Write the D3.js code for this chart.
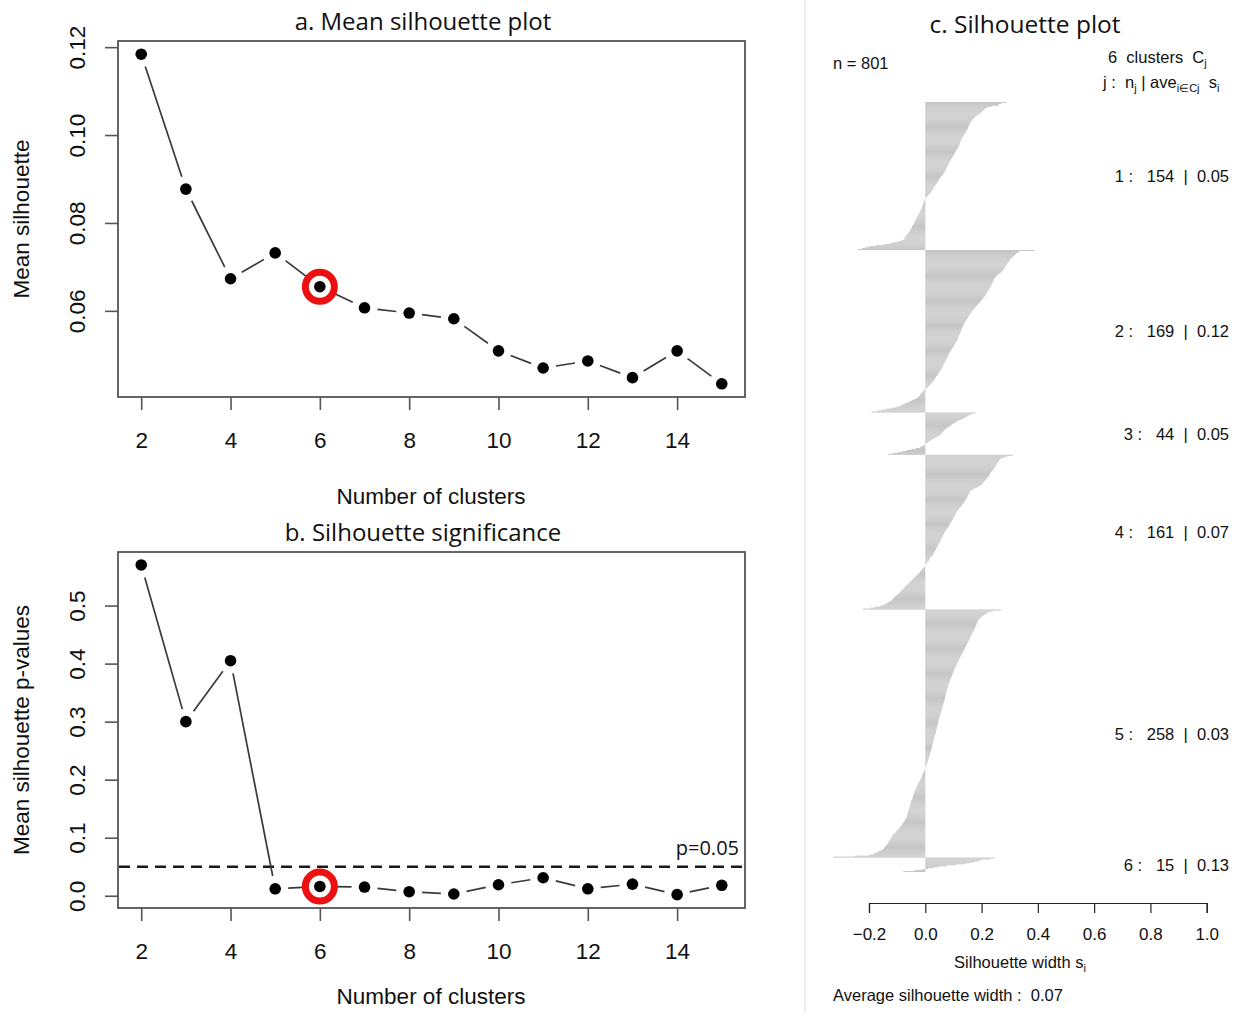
<!DOCTYPE html>
<html>
<head>
<meta charset="utf-8">
<script src="https://cdn.jsdelivr.net/npm/d3@7"></script>
<style>
  body { margin: 0; background: #fff; }
  svg { display: block; }
  .r-text { font-family: "Liberation Sans", Arial, sans-serif; fill: #111; white-space: pre; }
  .title { font-family: "Open Sans", sans-serif; fill: #111; }
</style>
</head>
<body>
<svg id="chart"></svg>
<script>
// ---- data ----
const clusterK = [2, 3, 4, 5, 6, 7, 8, 9, 10, 11, 12, 13, 14, 15];
const meanSil = [0.1184, 0.0877, 0.0673, 0.0732, 0.0655, 0.0607, 0.0595, 0.0582, 0.0509, 0.0470, 0.0486, 0.0448, 0.0509, 0.0434];
const pValues = [0.570, 0.300, 0.405, 0.012, 0.016, 0.015, 0.007, 0.003, 0.019, 0.031, 0.012, 0.020, 0.002, 0.018];
const selectedK = 6;
const pThreshold = 0.05;

const kTicks = [2, 4, 6, 8, 10, 12, 14];
const meanTicks = [0.06, 0.08, 0.10, 0.12];
const pTicks = [0.0, 0.1, 0.2, 0.3, 0.4, 0.5];
const silTicks = [-0.2, 0.0, 0.2, 0.4, 0.6, 0.8, 1.0];

const clusterSizes = [154, 169, 44, 161, 258, 15];
const clusterAvg = ["0.05", "0.12", "0.05", "0.07", "0.03", "0.13"];
const nObs = 801;
const avgWidth = "0.07";

// silhouette widths per cluster, sorted as plotted (top to bottom)
const sil1 = [0.287,0.270,0.262,0.258,0.236,0.221,0.214,0.210,0.207,0.203,
0.200,0.196,0.191,0.186,0.181,0.177,0.174,0.170,0.168,0.165,
0.163,0.161,0.158,0.157,0.155,0.154,0.152,0.151,0.149,0.147,
0.145,0.143,0.141,0.139,0.137,0.135,0.133,0.131,0.128,0.127,
0.126,0.124,0.123,0.122,0.121,0.119,0.118,0.116,0.114,0.112,
0.110,0.108,0.106,0.104,0.102,0.100,0.098,0.096,0.094,0.092,
0.090,0.088,0.086,0.084,0.083,0.081,0.080,0.078,0.076,0.074,
0.073,0.071,0.069,0.067,0.065,0.062,0.060,0.057,0.054,0.051,
0.049,0.047,0.045,0.043,0.041,0.039,0.036,0.034,0.031,0.029,
0.027,0.025,0.023,0.021,0.018,0.015,0.012,0.009,0.006,0.003,
0.000,-0.002,-0.003,-0.004,-0.006,-0.007,-0.008,-0.010,-0.011,-0.012,
-0.013,-0.014,-0.016,-0.018,-0.019,-0.021,-0.023,-0.025,-0.027,-0.029,
-0.030,-0.032,-0.034,-0.036,-0.037,-0.039,-0.041,-0.043,-0.045,-0.047,
-0.048,-0.050,-0.052,-0.054,-0.056,-0.058,-0.061,-0.064,-0.067,-0.070,
-0.071,-0.073,-0.075,-0.078,-0.086,-0.100,-0.115,-0.127,-0.150,-0.175,
-0.198,-0.212,-0.225,-0.239];
const sil2 = [0.388,0.335,0.330,0.323,0.320,0.317,0.313,0.310,0.305,0.302,
0.300,0.298,0.296,0.293,0.291,0.288,0.286,0.284,0.282,0.280,
0.278,0.276,0.272,0.268,0.263,0.258,0.254,0.251,0.248,0.246,
0.244,0.243,0.241,0.240,0.238,0.236,0.234,0.233,0.231,0.229,
0.227,0.225,0.223,0.221,0.219,0.217,0.215,0.213,0.210,0.207,
0.205,0.202,0.199,0.196,0.193,0.190,0.187,0.184,0.181,0.178,
0.175,0.172,0.169,0.166,0.164,0.162,0.160,0.157,0.155,0.153,
0.151,0.149,0.146,0.144,0.142,0.140,0.138,0.136,0.134,0.133,
0.132,0.130,0.129,0.128,0.126,0.125,0.124,0.122,0.121,0.119,
0.118,0.117,0.116,0.114,0.112,0.110,0.108,0.106,0.104,0.102,
0.100,0.098,0.095,0.093,0.090,0.088,0.087,0.085,0.083,0.081,
0.080,0.078,0.077,0.075,0.073,0.072,0.070,0.068,0.066,0.064,
0.063,0.061,0.059,0.057,0.055,0.053,0.050,0.048,0.046,0.044,
0.042,0.039,0.037,0.035,0.033,0.030,0.027,0.024,0.021,0.018,
0.015,0.012,0.008,0.005,0.001,-0.003,-0.006,-0.009,-0.012,-0.015,
-0.018,-0.020,-0.024,-0.028,-0.033,-0.040,-0.048,-0.055,-0.062,-0.070,
-0.078,-0.085,-0.091,-0.105,-0.120,-0.138,-0.155,-0.172,-0.191];
const sil3 = [0.177,0.165,0.158,0.152,0.146,0.140,0.133,0.126,0.118,0.111,
0.106,0.100,0.095,0.090,0.085,0.080,0.075,0.072,0.068,0.065,
0.061,0.058,0.055,0.051,0.045,0.039,0.033,0.027,0.021,0.015,
0.011,0.007,0.003,0.000,-0.007,-0.013,-0.020,-0.035,-0.050,-0.067,
-0.082,-0.098,-0.115,-0.132];
const sil4 = [0.311,0.290,0.280,0.270,0.266,0.263,0.261,0.258,0.256,0.254,
0.252,0.250,0.248,0.246,0.244,0.241,0.238,0.235,0.232,0.230,
0.229,0.227,0.225,0.222,0.219,0.216,0.213,0.210,0.207,0.204,
0.201,0.199,0.192,0.185,0.178,0.171,0.165,0.160,0.158,0.156,
0.155,0.153,0.151,0.150,0.148,0.146,0.144,0.142,0.140,0.137,
0.135,0.132,0.130,0.127,0.124,0.122,0.119,0.116,0.114,0.111,
0.109,0.108,0.106,0.104,0.102,0.101,0.099,0.097,0.095,0.093,
0.091,0.089,0.087,0.085,0.083,0.081,0.078,0.076,0.073,0.071,
0.069,0.067,0.066,0.064,0.062,0.061,0.059,0.057,0.056,0.054,
0.052,0.050,0.048,0.046,0.045,0.043,0.041,0.039,0.037,0.035,
0.033,0.031,0.029,0.027,0.025,0.022,0.019,0.017,0.015,0.013,
0.011,0.008,0.006,0.003,0.001,0.000,-0.003,-0.006,-0.009,-0.012,
-0.015,-0.018,-0.020,-0.024,-0.027,-0.031,-0.034,-0.038,-0.041,-0.045,
-0.048,-0.052,-0.055,-0.058,-0.062,-0.065,-0.068,-0.071,-0.075,-0.078,
-0.081,-0.085,-0.088,-0.091,-0.095,-0.099,-0.103,-0.107,-0.111,-0.114,
-0.117,-0.120,-0.126,-0.132,-0.138,-0.144,-0.150,-0.162,-0.178,-0.195,
-0.221];
const sil5 = [0.270,0.240,0.228,0.220,0.214,0.209,0.204,0.200,0.196,0.193,
0.190,0.188,0.186,0.185,0.183,0.182,0.180,0.179,0.177,0.176,
0.174,0.172,0.170,0.168,0.167,0.165,0.164,0.162,0.160,0.159,
0.157,0.156,0.154,0.152,0.151,0.149,0.147,0.146,0.144,0.142,
0.140,0.139,0.137,0.135,0.133,0.132,0.130,0.128,0.126,0.124,
0.122,0.120,0.118,0.117,0.115,0.114,0.112,0.111,0.109,0.108,
0.106,0.105,0.103,0.102,0.100,0.099,0.097,0.096,0.095,0.093,
0.092,0.091,0.089,0.088,0.087,0.086,0.084,0.083,0.082,0.081,
0.080,0.079,0.078,0.077,0.076,0.075,0.074,0.073,0.073,0.072,
0.071,0.070,0.070,0.069,0.068,0.067,0.066,0.065,0.064,0.063,
0.062,0.061,0.060,0.059,0.058,0.057,0.056,0.055,0.054,0.053,
0.052,0.051,0.050,0.049,0.048,0.047,0.046,0.046,0.045,0.044,
0.043,0.042,0.041,0.041,0.040,0.039,0.038,0.038,0.037,0.036,
0.035,0.034,0.033,0.032,0.031,0.030,0.029,0.028,0.027,0.026,
0.025,0.025,0.024,0.023,0.022,0.021,0.020,0.019,0.018,0.017,
0.016,0.015,0.014,0.013,0.012,0.011,0.010,0.009,0.008,0.007,
0.006,0.005,0.003,0.002,0.001,0.000,-0.002,-0.003,-0.005,-0.006,
-0.008,-0.009,-0.011,-0.012,-0.014,-0.015,-0.017,-0.019,-0.020,-0.022,
-0.024,-0.026,-0.027,-0.029,-0.030,-0.032,-0.033,-0.035,-0.036,-0.038,
-0.039,-0.040,-0.042,-0.043,-0.044,-0.045,-0.046,-0.047,-0.049,-0.050,
-0.051,-0.052,-0.053,-0.054,-0.055,-0.056,-0.057,-0.058,-0.059,-0.060,
-0.061,-0.062,-0.063,-0.064,-0.065,-0.066,-0.067,-0.069,-0.071,-0.073,
-0.075,-0.077,-0.080,-0.082,-0.085,-0.087,-0.090,-0.093,-0.096,-0.099,
-0.102,-0.105,-0.108,-0.112,-0.115,-0.117,-0.119,-0.121,-0.123,-0.125,
-0.127,-0.129,-0.132,-0.134,-0.136,-0.139,-0.142,-0.145,-0.148,-0.150,
-0.158,-0.165,-0.172,-0.180,-0.186,-0.200,-0.250,-0.328];
const sil6 = [0.245,0.230,0.200,0.190,0.175,0.157,0.140,0.110,0.075,0.050,
0.030,0.010,-0.010,-0.040,-0.078];
const silByCluster = [sil1, sil2, sil3, sil4, sil5, sil6];

// ---- setup ----
const W = 1239, H = 1012;
const svg = d3.select('#chart').attr('width', W).attr('height', H);

const lineCol = '#3a3a3a';
const boxCol = '#555';
const ringCol = '#ec1010';

// divider between left panels and panel c
svg.append('line')
  .attr('x1', 805).attr('x2', 805).attr('y1', 0).attr('y2', H)
  .attr('stroke', '#e2e2e2').attr('stroke-width', 1.2);

// type="b" line: segments between points with a gap round each point
function gappedSegments(pts, gap) {
  const segs = [];
  for (let i = 0; i < pts.length - 1; i++) {
    const [x0, y0] = pts[i], [x1, y1] = pts[i + 1];
    const dx = x1 - x0, dy = y1 - y0;
    const d = Math.sqrt(dx * dx + dy * dy);
    if (d <= 2 * gap) continue;
    const ux = dx / d, uy = dy / d;
    segs.push([x0 + ux * gap, y0 + uy * gap, x1 - ux * gap, y1 - uy * gap]);
  }
  return segs;
}

function drawPanel(opt) {
  const g = svg.append('g');
  const x = d3.scaleLinear().domain(opt.xDomain).range([118, 745]);
  const y = d3.scaleLinear().domain(opt.yDomain).range([opt.bottom, opt.top]);

  // x axis
  const xa = g.append('g')
    .attr('transform', `translate(0,${opt.bottom})`)
    .call(d3.axisBottom(x).tickValues(kTicks).tickSize(13).tickPadding(22).tickFormat(d3.format('d')));
  xa.select('.domain').remove();
  xa.selectAll('line').attr('stroke', boxCol).attr('stroke-width', 1.6);
  xa.selectAll('text').attr('class', 'r-text').style('font-size', '22.5px')
    .attr('fill', '#222');

  // y axis with rotated labels (R las=0)
  const ya = g.append('g')
    .attr('transform', 'translate(118,0)')
    .call(d3.axisLeft(y).tickValues(opt.yTicks).tickSize(13).tickFormat(d3.format(opt.yFormat)));
  ya.select('.domain').remove();
  ya.selectAll('line').attr('stroke', boxCol).attr('stroke-width', 1.6);
  ya.selectAll('text')
    .attr('class', 'r-text').style('font-size', '22.5px').attr('fill', '#222')
    .attr('x', null).attr('dy', null)
    .attr('text-anchor', 'middle')
    .attr('transform', 'translate(-33,0) rotate(-90)');

  // box
  g.append('rect')
    .attr('x', 118).attr('y', opt.top)
    .attr('width', 745 - 118).attr('height', opt.bottom - opt.top)
    .attr('fill', 'none').attr('stroke', boxCol).attr('stroke-width', 1.8);

  // reference line
  if (opt.hline !== undefined) {
    g.append('line')
      .attr('x1', 119).attr('x2', 744)
      .attr('y1', y(opt.hline)).attr('y2', y(opt.hline))
      .attr('stroke', '#1a1a1a').attr('stroke-width', 2.6)
      .attr('stroke-dasharray', '11,7');
    g.append('text').attr('class', 'title')
      .attr('x', 739).attr('y', y(opt.hline) - 12)
      .attr('text-anchor', 'end').style('font-size', '20px')
      .text('p=' + opt.hline.toFixed(2));
  }

  const pts = clusterK.map((k, i) => [x(k), y(opt.values[i])]);
  g.selectAll('line.seg')
    .data(gappedSegments(pts, 13))
    .enter().append('line').attr('class', 'seg')
    .attr('x1', d => d[0]).attr('y1', d => d[1])
    .attr('x2', d => d[2]).attr('y2', d => d[3])
    .attr('stroke', lineCol).attr('stroke-width', 1.7);

  g.selectAll('circle.pt')
    .data(pts)
    .enter().append('circle').attr('class', 'pt')
    .attr('cx', d => d[0]).attr('cy', d => d[1])
    .attr('r', 5.8).attr('fill', '#000');

  // highlighted choice
  const si = clusterK.indexOf(selectedK);
  g.append('circle')
    .attr('cx', x(selectedK)).attr('cy', y(opt.values[si]))
    .attr('r', 14.5).attr('fill', 'none')
    .attr('stroke', ringCol).attr('stroke-width', 7);

  // titles
  g.append('text').attr('class', 'title')
    .attr('x', 423).attr('y', opt.top - 11)
    .attr('text-anchor', 'middle').style('font-size', '24px')
    .text(opt.title);
  g.append('text').attr('class', 'r-text')
    .attr('x', 431).attr('y', opt.bottom + opt.xLabelOffset)
    .attr('text-anchor', 'middle').style('font-size', '22.5px').attr('fill', '#222')
    .text('Number of clusters');
  g.append('text').attr('class', 'r-text')
    .attr('transform', `translate(29,${(opt.top + opt.bottom) / 2}) rotate(-90)`)
    .attr('text-anchor', 'middle').style('font-size', '22.5px').attr('fill', '#222')
    .text(opt.yLabel);
}

drawPanel({
  title: 'a. Mean silhouette plot',
  yLabel: 'Mean silhouette',
  values: meanSil,
  xDomain: [1.48, 15.52],
  yDomain: [0.0404, 0.1214],
  yTicks: meanTicks,
  yFormat: '.2f',
  xLabelOffset: 107,
  top: 41, bottom: 397
});

drawPanel({
  title: 'b. Silhouette significance',
  yLabel: 'Mean silhouette p-values',
  values: pValues,
  xDomain: [1.48, 15.52],
  yDomain: [-0.0211, 0.5923],
  yTicks: pTicks,
  yFormat: '.1f',
  hline: pThreshold,
  xLabelOffset: 96,
  top: 552, bottom: 908
});

// ---- panel c: silhouette plot ----
const bars = [];
silByCluster.forEach((vals, c) => {
  vals.forEach(v => bars.push({ cluster: c + 1, id: bars.length, value: v }));
});

const cg = svg.append('g');
const xs = d3.scaleLinear().domain([-0.2, 1.0]).range([869, 1206.7]);
const ys = d3.scaleBand().domain(bars.map(d => d.id)).range([102, 872]).padding(0);

cg.selectAll('rect.bar')
  .data(bars)
  .enter().append('rect').attr('class', 'bar')
  .attr('x', d => Math.min(xs(0), xs(d.value)))
  .attr('width', d => Math.abs(xs(d.value) - xs(0)))
  .attr('y', d => ys(d.id))
  .attr('height', ys.bandwidth())
  .attr('fill', '#c4c4c4');

const xAxisC = cg.append('g')
  .attr('transform', 'translate(0,903)')
  .call(d3.axisBottom(xs).tickValues(silTicks).tickSize(10).tickPadding(15).tickFormat(d3.format('.1f')));
xAxisC.select('.domain').attr('stroke', '#222').attr('stroke-width', 1.2);
xAxisC.selectAll('line').attr('stroke', '#222').attr('stroke-width', 1.2);
xAxisC.selectAll('text').attr('class', 'r-text').style('font-size', '17px').attr('fill', '#111');

cg.append('text').attr('class', 'title')
  .attr('x', 1025).attr('y', 33)
  .attr('text-anchor', 'middle').style('font-size', '24.5px')
  .text('c. Silhouette plot');

cg.append('text').attr('class', 'r-text')
  .attr('x', 833).attr('y', 69).style('font-size', '16.5px')
  .text('n = ' + nObs);

const hdr1 = cg.append('text').attr('class', 'r-text')
  .attr('x', 1108).attr('y', 63).style('font-size', '16.5px');
hdr1.append('tspan').text(silByCluster.length + '  clusters  C');
hdr1.append('tspan').attr('dy', 4).style('font-size', '11px').text('j');

const hdr2 = cg.append('text').attr('class', 'r-text')
  .attr('x', 1103).attr('y', 88).style('font-size', '16.5px');
hdr2.append('tspan').text('j :  n');
hdr2.append('tspan').attr('dy', 4).style('font-size', '11px').text('j');
hdr2.append('tspan').attr('dy', -4).text(' | ave');
hdr2.append('tspan').attr('dy', 4).style('font-size', '11px').text('i\u2208Cj');
hdr2.append('tspan').attr('dy', -4).text('  s');
hdr2.append('tspan').attr('dy', 4).style('font-size', '11px').text('i');

// cluster summary labels at each block's middle
let start = 0;
const labelRows = clusterSizes.map((n, i) => {
  const first = start, last = start + n - 1;
  start += n;
  return { j: i + 1, n: n, ave: clusterAvg[i], y: (ys(first) + ys(last) + ys.bandwidth()) / 2 };
});
cg.selectAll('text.clab')
  .data(labelRows)
  .enter().append('text').attr('class', 'clab r-text')
  .attr('x', 1229).attr('y', d => d.y + 6)
  .attr('text-anchor', 'end').style('font-size', '16.5px')
  .text(d => `${d.j} :   ${d.n}  |  ${d.ave}`);

const xl = cg.append('text').attr('class', 'r-text')
  .attr('x', 1020).attr('y', 968).attr('text-anchor', 'middle').style('font-size', '16.5px');
xl.append('tspan').text('Silhouette width s');
xl.append('tspan').attr('dy', 4).style('font-size', '11px').text('i');

cg.append('text').attr('class', 'r-text')
  .attr('x', 833).attr('y', 1001).style('font-size', '16.5px')
  .text('Average silhouette width :  ' + avgWidth);
</script>
</body>
</html>
